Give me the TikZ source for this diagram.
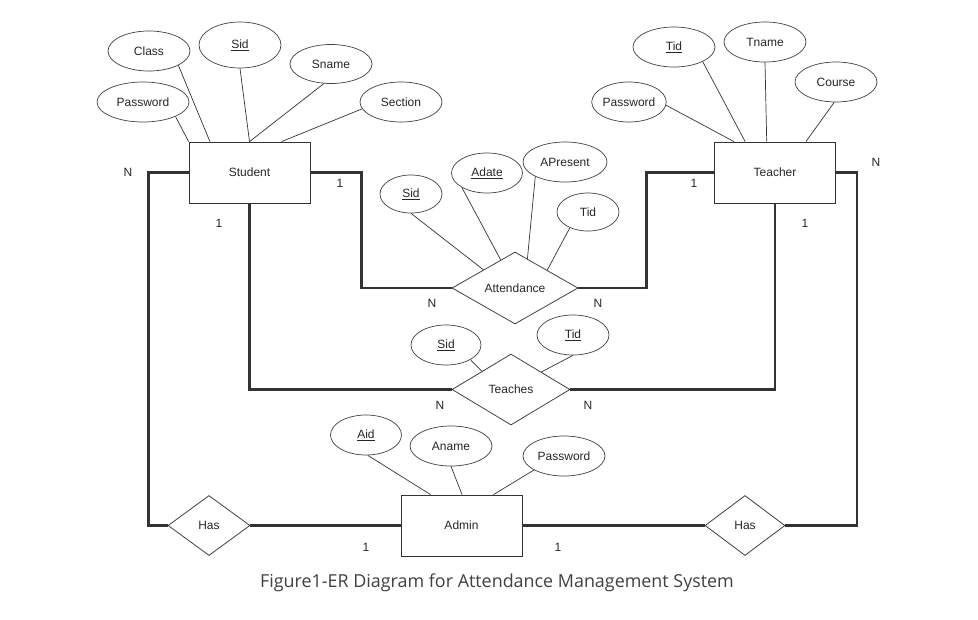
\documentclass[tikz,border=0pt]{standalone}
\usepackage{fontspec}
\setmainfont{Liberation Sans}
\newfontfamily\capfont{Open Sans}
\usepackage{tikz}
\usetikzlibrary{shapes.geometric}

\begin{document}
\begin{tikzpicture}[x=1pt, y=-1pt, font=\fontsize{12}{14}\selectfont, text=black!85]
    \useasboundingbox (0,0) rectangle (978,619);
    \begin{scope}[entity/.style={draw=black!80, rectangle, minimum width=121pt, minimum height=61pt, inner sep=0, line width=0.8pt}, attr/.style={draw=black!75, ellipse, minimum width=82pt, minimum height=40pt, inner sep=0, line width=0.7pt}, relbox/.style={draw=black!75, diamond, aspect=1.75, inner sep=0, line width=0.8pt}, link/.style={black!80, line width=0.7pt}, conn/.style={black!80, line width=2.6pt}]
        % entities
        \node [entity] (student) at (249.5,172.5) {Student};
        \node [entity] (teacher) at (775,172.5) {Teacher};
        \node [entity] (admin) at (461.5,525.5) {Admin};
        % relationships
        \node [relbox, minimum width=126pt, minimum height=72pt] (att) at (515,288) {Attendance};
        \node [relbox, minimum width=118pt, minimum height=71pt] (teach) at (511,389.5) {Teaches};
        \node [relbox, minimum width=82pt, minimum height=60pt] (hasl) at (209,525.5) {Has};
        \node [relbox, minimum width=80pt, minimum height=60pt] (hasr) at (745,525.5) {Has};
        % student attributes
        \node [attr] (scls) at (149,51) {Class};
        \node [attr, minimum height=46pt] (ssid) at (240,45) {\underline{Sid}};
        \node [attr, minimum height=39pt] (sname) at (331,64) {Sname};
        \node [attr] (ssec) at (401,102) {Section};
        \node [attr, minimum width=92pt] (spw) at (143,102) {Password};
        % teacher attributes
        \node [attr] (ttid) at (674,47) {\underline{Tid}};
        \node [attr] (tname) at (765,42) {Tname};
        \node [attr] (tcrs) at (836,82) {Course};
        \node [attr, minimum width=72pt] (tpw) at (629,102) {Password};
        % attendance attributes
        \node [attr, minimum width=62pt, minimum height=38pt] (asid) at (411,194) {\underline{Sid}};
        \node [attr, minimum width=71pt] (adate) at (487,173) {\underline{Adate}};
        \node [attr, minimum width=84pt] (apres) at (565,162) {APresent};
        \node [attr, minimum width=62pt, minimum height=38pt] (atid) at (588,212) {Tid};
        % teaches attributes
        \node [attr, minimum width=70pt] (tssid) at (446,345) {\underline{Sid}};
        \node [attr, minimum width=72pt] (tstid) at (573,335) {\underline{Tid}};
        % admin attributes
        \node [attr, minimum width=71pt] (aaid) at (366,435) {\underline{Aid}};
        \node [attr] (aname) at (451,446) {Aname};
        \node [attr] (apw) at (564,456) {Password};
        % attribute links
        \foreach \a/\b in {spw.-24/student.north west, scls.-26/student.142, ssid.south/student.north, sname.-110/student.north, ssec.190/student.44,
                          tpw.-5/teacher.143, ttid.-27/teacher.134, tname.south/teacher.105, tcrs.-95/teacher.45,
                          asid.south/att.150, adate.-150/att.117, apres.-154/att.67, atid.-139/att.29,
                          tssid.-31/teach.148, tstid.south/teach.30,
                          aaid.-85/admin.135, aname.south/admin.89, apw.-155/admin.44} {\draw [link] (\a) -- (\b);}
        % relationship lines
        \draw [conn] (student.west) -- ++(-40,0) |- (hasl);
        \draw [conn] (student.east) -- ++(51,0) |- (att);
        \draw [conn] (att.east) -- ++(68,0) |- (teacher);
        \draw [conn] (student) |- (teach);
        \draw [conn] (teach) -| (teacher);
        \draw [conn] (teacher.east) -- ++(21,0) |- (hasr);
        \draw [conn] (hasl) -- (admin);
        \draw [conn] (admin) -- (hasr);
        % cardinalities
        \foreach \t/\x/\y in {N/128/172, 1/340/183, N/432/303, N/598/303, 1/694/183, 1/219/223, 1/805/223,
                              N/876/162, N/440/405, N/588/405, 1/366/547, 1/558/547} {\node (c-\x-\y) at (\x,\y) {\t};}
    \end{scope}
    \node [text=black!75, font=\capfont\fontsize{17.9}{20}\selectfont] (caption) at (497,583) {Figure1-ER Diagram for Attendance Management System};
\end{tikzpicture}
\end{document}
